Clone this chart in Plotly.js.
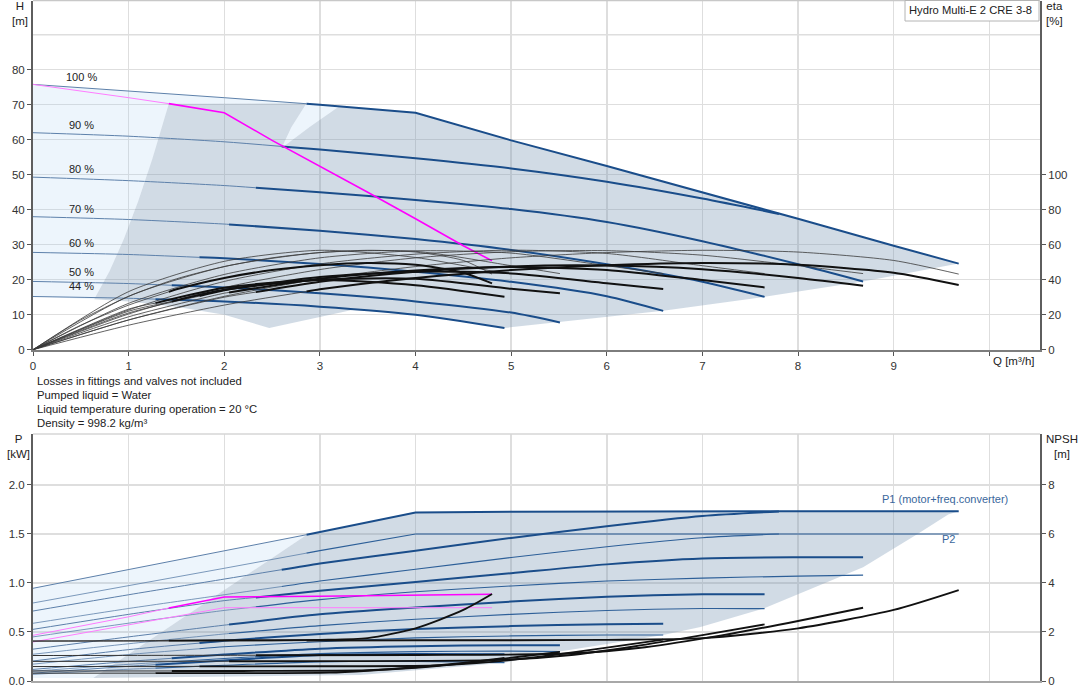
<!DOCTYPE html>
<html><head><meta charset="utf-8">
<script src="https://cdn.plot.ly/plotly-3.0.1.min.js"></script>
<style>html,body{margin:0;padding:0;background:#fff}#chart{width:1082px;height:700px}</style>
</head><body><div id="chart"></div>
<script>
const FONT = 'Liberation Sans, Arial, Helvetica, sans-serif';

// ---------- TOP: head curves, 2 pumps (Q m³/h, H m) ----------
const speedLabels = ['100 %','90 %','80 %','70 %','60 %','50 %','44 %'];
const labelH      = [77.9, 64.2, 51.6, 40.3, 30.5, 22.2, 18.2];
const minFlow2    = [2.86, 2.6, 2.33, 2.05, 1.74, 1.45, 1.28]; // start of recommended range per speed
const minFlow1    = 1.42;

const qh100Q = [0,1,2,3,4,5,6,7,8,9,9.68];
const qh100H = [75.8,74.0,72.0,70.0,67.7,59.8,52.5,45.0,37.4,29.7,24.6];
const qh90Q  = [0,1,2,3,4,5,6,7,7.8];
const qh90H  = [62.0,61.0,59.4,57.2,54.7,51.8,48.0,43.2,38.8];
const qh80Q  = [0,1,2,3,4,5,6,7,8,8.68];
const qh80H  = [49.3,48.3,46.9,45.0,42.8,40.2,36.5,31.0,24.4,19.5];
const qh70Q  = [0,1,2,3,4,5,6,7,7.65];
const qh70H  = [38.0,37.2,35.9,34.0,31.6,28.5,24.4,19.4,15.1];
const qh60Q  = [0,1,2,3,4,5,6,6.59];
const qh60H  = [27.8,27.2,26.1,24.5,22.3,19.4,15.3,11.1];
const qh50Q  = [0,1,2,3,4,5,5.51];
const qh50H  = [19.5,18.9,17.8,16.1,13.8,10.6,7.8];
const qh44Q  = [0,1,2,3,4,4.93];
const qh44H  = [15.2,14.7,13.8,12.3,10.0,6.2];
// 1 pump, max speed (magenta)
const qh1Q   = [0,0.5,1,1.42,2,2.5,3,3.5,4,4.5,4.8];
const qh1H   = [75.8,74.0,72.0,70.3,67.7,59.8,52.5,45.0,37.4,29.7,25.4];

// operating areas (outline)
const areaLightQ = [0,1,2,2.86,3.2,2.9,2.6,2.7,2.86,1.42,1.25,1.1,0.95,0.8,0.64,0];
const areaLightH = [75.8,74.0,72.0,70.4,69.5,63.8,57.6,63.5,70.4,70.3,54.7,42.4,31.6,22.4,14.4,15.2];
const areaDarkQ  = [0.64,0.8,0.95,1.1,1.25,1.42,2.86,2.7,2.6,2.9,3.2,4,5,6,7,8,9,9.68,8.68,7.65,6.59,5.51,4.93,4.0,3.36,3.3,2.76,2.47,2.0,1.5,1.0,0.64];
const areaDarkH  = [14.4,22.4,31.6,42.4,54.7,70.3,70.4,63.5,57.6,63.8,69.5,67.7,59.8,52.5,45.0,37.4,29.7,24.6,19.5,15.1,11.1,7.8,6.2,10.0,11.5,11.1,7.8,6.2,10.0,12.3,13.8,14.4];

// efficiency, pump only (thin)
const etaP100Q = [0,1,2,3,4,5,6,7,8,9,9.68];
const etaP100  = [0,17,30.5,40.5,47.5,52.5,55.5,56.8,55.8,51,43.2];
const etaP80Q  = [0,1,2,3,4,5,6,7,8,8.68];
const etaP80   = [0,20.4,35.5,45.8,52.5,56,56.6,54,48,43.5];
const etaP70Q  = [0,1,2,3,4,5,6,7,7.65];
const etaP70   = [0,22.7,39,49,54.6,56.9,55,48,43.5];
const etaP60Q  = [0,1,2,3,4,5,6,6.59];
const etaP60   = [0,26.5,43,52.5,56.5,55.2,48,43.5];
const etaP50Q  = [0,1,2,3,4,5,5.51];
const etaP50   = [0,30.5,47.5,55.5,56.2,48,43.5];
const etaP44Q  = [0,1,2,3,4,4.93];
const etaP44   = [0,33.2,50.5,56.8,52.7,43.5];
const etaP1Q   = [0,0.5,1,1.5,2,2.5,3,3.5,4,4.5,4.8];
const etaP1    = [0,17,30.5,40.5,47.5,52.5,55.5,56.8,55.8,51,43.2];
// efficiency, total (thin then thick)
const etaT100Q = [0,1,2,3,4,5,6,7,8,9,9.68];
const etaT100  = [0,14,25.5,34.5,41,45.5,48.3,49.6,48.5,44,37];
const etaT80Q  = [0,1,2,3,4,5,6,7,8,8.68];
const etaT80   = [0,17,30,38.8,44.5,47.6,48.1,46,41,36.6];
const etaT70Q  = [0,1,2,3,4,5,6,7,7.65];
const etaT70   = [0,18.8,32.3,40.6,45.3,47.2,45.6,39.8,35.6];
const etaT60Q  = [0,1,2,3,4,5,6,6.59];
const etaT60   = [0,21,34,41.5,44.6,43.6,38,34.7];
const etaT50Q  = [0,1,2,3,4,5,5.51];
const etaT50   = [0,22,34.2,40,40.5,34.8,32.2];
const etaT44Q  = [0,1,2,3,4,4.93];
const etaT44   = [0,23.2,35.4,39.8,36.9,30.3];
const etaT1Q   = [0,0.5,1,1.5,2,2.5,3,3.5,4,4.5,4.8];
const etaT1    = [0,14,25.5,34.5,41,45.5,48.3,49.6,48.5,44,37.9];

// ---------- BOTTOM: power (kW) and NPSH (m) ----------
const p1_100Q = [0,1,2,3,4,5,6,7,8,9,9.68];
const p1_100  = [0.946,1.135,1.325,1.52,1.72,1.728,1.73,1.73,1.732,1.733,1.733];
const p2_100  = [0.796,0.97,1.15,1.33,1.5,1.5,1.5,1.5,1.5,1.5,1.5];
const p1_90Q  = [0,1,2,3,4,5,6,7,7.8];
const p1_90   = [0.714,0.88,1.04,1.2,1.33,1.46,1.58,1.684,1.73];
const p2_90   = [0.589,0.74,0.88,1.02,1.14,1.26,1.37,1.462,1.5];
const p1_80Q  = [0,1,2,3,4,5,6,7,8,8.68];
const p1_80   = [0.527,0.68,0.82,0.92,1.01,1.1,1.19,1.25,1.262,1.262];
const p2_80   = [0.45,0.59,0.72,0.83,0.91,0.97,1.02,1.05,1.07,1.08];
const p1_70Q  = [0,1,2,3,4,5,6,7,7.65];
const p1_70   = [0.325,0.45,0.57,0.68,0.75,0.81,0.86,0.885,0.885];
const p2_70   = [0.273,0.38,0.48,0.565,0.63,0.68,0.72,0.74,0.738];
const p1_60Q  = [0,1,2,3,4,5,6,6.59];
const p1_60   = [0.204,0.32,0.41,0.48,0.53,0.56,0.58,0.585];
const p2_60   = [0.172,0.27,0.35,0.4,0.44,0.46,0.47,0.47];
const p1_50Q  = [0,1,2,3,4,5,5.51];
const p1_50   = [0.118,0.2,0.27,0.33,0.355,0.365,0.364];
const p2_50   = [0.1,0.17,0.23,0.28,0.3,0.305,0.3];
const p1_44Q  = [0,1,2,3,4,4.93];
const p1_44   = [0.08,0.15,0.21,0.265,0.275,0.272];
const p2_44   = [0.068,0.12,0.16,0.195,0.2,0.187];
const p1onePumpQ = [0,0.5,1,1.42,2,3,4,4.8];
const p1onePump  = [0.466,0.56,0.655,0.745,0.857,0.865,0.872,0.885];
const p2onePump  = [0.398,0.485,0.57,0.645,0.748,0.748,0.748,0.748];

const npsh100Q = [0,2,4,6,7,8,9,9.68];
const npsh100  = [1.63,1.64,1.66,1.68,1.75,2.15,2.9,3.71];
const npsh80Q  = [0,2,4,5.6,6.4,7.2,8,8.68];
const npsh80   = [1.04,1.05,1.06,1.12,1.38,1.86,2.45,2.99];
const npsh70Q  = [0,3,4.9,5.6,6.3,7,7.65];
const npsh70   = [0.8,0.81,0.86,1.05,1.42,1.87,2.31];
const npsh60Q  = [0,3,4.2,4.8,5.4,6,6.59];
const npsh60   = [0.59,0.6,0.63,0.78,1.04,1.36,1.69];
const npsh50Q  = [0,2,3.5,4,4.5,5,5.51];
const npsh50   = [0.41,0.41,0.44,0.54,0.72,0.95,1.19];
const npsh44Q  = [0,2,3.1,3.5,4,4.5,4.93];
const npsh44   = [0.32,0.32,0.34,0.42,0.56,0.74,0.94];
const npsh1Q   = [0,1,2,3,3.5,4,4.5,4.8];
const npsh1    = [1.63,1.64,1.66,1.68,1.75,2.15,2.9,3.55];

const pAreaLightQ = [0,1,2,2.86,0.63,0];
const pAreaLightP = [0.946,1.135,1.325,1.49,0.03,0.03];
const pAreaDarkQ  = [0.63,2.86,3,4,5,6,7,8,9,9.68,9.57,9.25,8.68,7.64,6.98,6.59,5.51,4.93,3.42];
const pAreaDarkP  = [0.03,1.49,1.52,1.72,1.728,1.73,1.73,1.732,1.733,1.733,1.70,1.50,1.16,0.74,0.55,0.47,0.30,0.187,0.06];

const infoLines = ['Losses in fittings and valves not included','Pumped liquid = Water','Liquid temperature during operation = 20 °C','Density = 998.2 kg/m³'];

// ---------- helpers ----------
function seg(xs, ys, xb){
  if (xb <= xs[0]) return [null,{x:xs,y:ys}];
  let i=0; while(i<xs.length-1 && xs[i+1]<=xb) i++;
  if (i>=xs.length-1) return [{x:xs,y:ys},null];
  const t=(xb-xs[i])/(xs[i+1]-xs[i]);
  const yb=ys[i]+t*(ys[i+1]-ys[i]);
  return [{x:xs.slice(0,i+1).concat([xb]),y:ys.slice(0,i+1).concat([yb])},
          {x:[xb].concat(xs.slice(i+1)),y:[yb].concat(ys.slice(i+1))}];
}
function ln(d,xa,ya,color,width,shape){
  return {type:'scatter',mode:'lines',x:d.x,y:d.y,xaxis:xa,yaxis:ya,hoverinfo:'skip',
    line:{color:color,width:width,shape:shape||'spline',smoothing:0.7}};
}
function area(xs,ys,xa,ya,color){
  return {type:'scatter',mode:'lines',x:xs.concat([xs[0]]),y:ys.concat([ys[0]]),xaxis:xa,yaxis:ya,
    fill:'toself',fillcolor:color,line:{width:0,color:'rgba(0,0,0,0)'},hoverinfo:'skip'};
}
function twoPart(traces,xs,ys,xb,xa,ya,thinC,thinW,thickC,thickW,shape){
  const [a,b]=seg(xs,ys,xb);
  if(a) traces.push(ln(a,xa,ya,thinC,thinW,shape));
  if(b) traces.push(ln(b,xa,ya,thickC,thickW,shape));
}

const BLUE='#1a4d8a', BLUE_THIN='#5d80aa', BLACK='#111111', MAG='#ff00ff', MAG_THIN='#ff7cff';
const LIGHT='rgba(160,200,240,0.19)', DARK='rgba(120,150,180,0.34)';

const traces=[];
// areas
traces.push(area(areaLightQ,areaLightH,'x','y',LIGHT));
traces.push(area(areaDarkQ,areaDarkH,'x','y',DARK));
traces.push(area(pAreaLightQ,pAreaLightP,'x2','y2',LIGHT));
traces.push(area(pAreaDarkQ,pAreaDarkP,'x2','y2',DARK));

// QH curves
const qhQ=[qh100Q,qh90Q,qh80Q,qh70Q,qh60Q,qh50Q,qh44Q];
const qhH=[qh100H,qh90H,qh80H,qh70H,qh60H,qh50H,qh44H];
qhQ.forEach((q,i)=>twoPart(traces,q,qhH[i],minFlow2[i],'x','y',BLUE_THIN,1,BLUE,2,i===0?'linear':'spline'));

// efficiency: pump (thin)
[[etaP100Q,etaP100],[etaP80Q,etaP80],[etaP70Q,etaP70],[etaP60Q,etaP60],[etaP50Q,etaP50],[etaP44Q,etaP44],[etaP1Q,etaP1]]
  .forEach(([q,e])=>traces.push(ln({x:q,y:e},'x','y3','#3a3a3a',0.8)));
// efficiency: total
const etaTot=[[etaT100Q,etaT100,minFlow2[0]],[etaT80Q,etaT80,minFlow2[2]],[etaT70Q,etaT70,minFlow2[3]],
  [etaT60Q,etaT60,minFlow2[4]],[etaT50Q,etaT50,minFlow2[5]],[etaT44Q,etaT44,minFlow2[6]],[etaT1Q,etaT1,minFlow1]];
etaTot.forEach(([q,e,m])=>twoPart(traces,q,e,m,'x','y3','#3a3a3a',0.8,BLACK,2));

// 1 pump max (magenta)
twoPart(traces,qh1Q,qh1H,minFlow1,'x','y',MAG_THIN,1,MAG,1.6,'linear');

// Power curves
const pSets=[[p1_100Q,p1_100,p2_100,minFlow2[0],'linear'],[p1_90Q,p1_90,p2_90,minFlow2[1],'spline'],[p1_80Q,p1_80,p2_80,minFlow2[2],'spline'],
  [p1_70Q,p1_70,p2_70,minFlow2[3],'spline'],[p1_60Q,p1_60,p2_60,minFlow2[4],'spline'],[p1_50Q,p1_50,p2_50,minFlow2[5],'spline'],[p1_44Q,p1_44,p2_44,minFlow2[6],'spline']];
pSets.forEach(([q,a,b,m,s])=>{
  twoPart(traces,q,b,m,'x2','y2',BLUE_THIN,0.8,'#2d5f98',1.1,s);
  twoPart(traces,q,a,m,'x2','y2',BLUE_THIN,1,BLUE,2,s);
});
// NPSH
const nSets=[[npsh100Q,npsh100,minFlow2[0]],[npsh80Q,npsh80,minFlow2[2]],[npsh70Q,npsh70,minFlow2[3]],[npsh60Q,npsh60,minFlow2[4]],
  [npsh50Q,npsh50,minFlow2[5]],[npsh44Q,npsh44,minFlow2[6]],[npsh1Q,npsh1,minFlow1]];
nSets.forEach(([q,n,m])=>twoPart(traces,q,n,m,'x2','y4','#333',1,BLACK,1.9));
// 1 pump power (magenta)
traces.push(ln({x:p1onePumpQ,y:p2onePump},'x2','y2',MAG_THIN,1,'linear'));
twoPart(traces,p1onePumpQ,p1onePump,minFlow1,'x2','y2',MAG_THIN,1,MAG,1.6,'linear');

// ---------- layout ----------
const px = v => (v-33)/1007;      // pixel x -> paper
const py = v => (681-v)/680;      // pixel y -> paper
const tickF={family:FONT,size:11.5,color:'#333'};
const xTicks=[0,1,2,3,4,5,6,7,8,9,10];
const axBase={zeroline:false,fixedrange:true,ticks:'outside',ticklen:4,tickwidth:1,tickcolor:'#555',tickfont:tickF};

const annotations=[];
speedLabels.forEach((t,i)=>annotations.push({xref:'x',yref:'y',x:0.512,y:labelH[i],text:t,showarrow:false,
  font:{family:FONT,size:11,color:'#222'},xanchor:'center',yanchor:'middle'}));
const lbl=(x,y,t,anchor)=>({xref:'paper',yref:'paper',x:x,y:y,text:t,showarrow:false,xanchor:anchor||'center',yanchor:'middle',
  font:{family:FONT,size:11.5,color:'#222'}});
annotations.push(lbl(px(19.5),py(13),'H<br>[m]'));
annotations.push(lbl(px(1054.5),py(13),'eta<br>[%]'));
annotations.push(lbl(px(1014),py(361),'Q [m³/h]'));
annotations.push(lbl(px(18.5),py(446),'P<br>[kW]'));
annotations.push(lbl(px(1062),py(446),'NPSH<br>[m]'));
infoLines.forEach((t,i)=>annotations.push({xref:'paper',yref:'paper',x:px(35),y:py(381+14*i),text:t,showarrow:false,
  xanchor:'left',yanchor:'middle',font:{family:FONT,size:11.3,color:'#222'}}));
annotations.push({xref:'paper',yref:'paper',x:px(970),y:py(10),text:'Hydro Multi-E 2 CRE 3-8',showarrow:false,
  xanchor:'center',yanchor:'middle',font:{family:FONT,size:11.2,color:'#222'}});
annotations.push({xref:'x2',yref:'y2',x:9.54,y:1.854,text:'P1 (motor+freq.converter)',showarrow:false,
  xanchor:'center',yanchor:'middle',font:{family:FONT,size:11,color:'#3a679c'}});
annotations.push({xref:'x2',yref:'y2',x:9.57,y:1.446,text:'P2',showarrow:false,
  xanchor:'center',yanchor:'middle',font:{family:FONT,size:11,color:'#3a679c'}});

const shapes=[
  {type:'line',xref:'paper',yref:'y',x0:0,x1:1,y0:90,y1:90,line:{color:'#dedede',width:1.5},layer:'below'},
  {type:'line',xref:'paper',yref:'paper',x0:0,x1:1,y0:py(0.5),y1:py(0.5),line:{color:'#c8c8c8',width:1.5}},
  {type:'line',xref:'paper',yref:'paper',x0:0,x1:1,y0:py(434),y1:py(434),line:{color:'#d6d6d6',width:1.5}},
  {type:'rect',xref:'paper',yref:'paper',x0:px(905),x1:px(1039),y0:py(21),y1:py(0.5),line:{color:'#b4b4b4',width:1},fillcolor:'#ffffff'}
];

const layout={
  width:1082,height:700,margin:{l:33,r:42,t:1,b:19},paper_bgcolor:'#fff',plot_bgcolor:'#fff',showlegend:false,
  font:{family:FONT,size:11.5,color:'#333'},
  xaxis:Object.assign({},axBase,{domain:[0,1],anchor:'y',range:[0,10.53],tickvals:xTicks,ticktext:['0','1','2','3','4','5','6','7','8','9',''],
    showgrid:true,gridcolor:'#dedede',gridwidth:1.5,showline:true,linecolor:'#7d7d7d',linewidth:2}),
  yaxis:Object.assign({},axBase,{domain:[0.4872,1],anchor:'x',range:[0,99.63],tickvals:[0,10,20,30,40,50,60,70,80],
    showgrid:true,gridcolor:'#dedede',gridwidth:1.5,showline:true,linecolor:'#5e5e5e',linewidth:2}),
  yaxis3:Object.assign({},axBase,{overlaying:'y',side:'right',anchor:'x',range:[0,199.26],tickvals:[0,20,40,60,80,100],
    showgrid:false,showline:true,linecolor:'#5e5e5e',linewidth:2}),
  xaxis2:Object.assign({},axBase,{domain:[0,1],anchor:'y2',range:[0,10.53],tickvals:xTicks,showticklabels:false,ticks:'',
    showgrid:true,gridcolor:'#dedede',gridwidth:1.5,showline:true,linecolor:'#a8a8a8',linewidth:2}),
  yaxis2:Object.assign({},axBase,{domain:[0,0.3632],anchor:'x2',range:[0,2.52],tickvals:[0,0.5,1,1.5,2],ticktext:['0.0','0.5','1.0','1.5','2.0'],
    showgrid:true,gridcolor:'#dedede',gridwidth:1.5,showline:true,linecolor:'#5e5e5e',linewidth:2}),
  yaxis4:Object.assign({},axBase,{overlaying:'y2',side:'right',anchor:'x2',range:[0,10.08],tickvals:[0,2,4,6,8],
    showgrid:false,showline:true,linecolor:'#5e5e5e',linewidth:2}),
  annotations:annotations,shapes:shapes
};

Plotly.newPlot('chart',traces,layout,{displayModeBar:false,staticPlot:true});
</script></body></html>
